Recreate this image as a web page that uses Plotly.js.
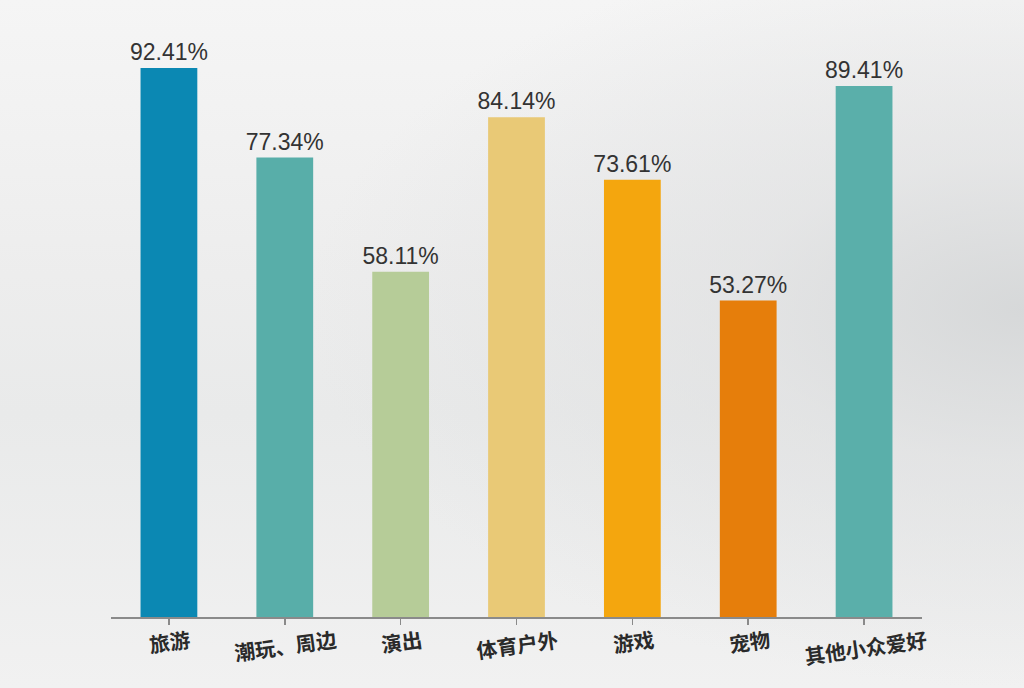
<!DOCTYPE html>
<html>
<head>
<meta charset="utf-8">
<script src="https://cdn.plot.ly/plotly-3.0.1.min.js"></script>
<style>
html,body{margin:0;padding:0;width:1024px;height:688px;overflow:hidden;}
body{background:
  radial-gradient(ellipse 70% 55% at 100% 45%, rgba(212,214,215,0.9) 0%, rgba(222,223,224,0.6) 40%, rgba(235,235,235,0) 100%),
  linear-gradient(180deg,#f5f5f5 0%,#ededed 40%,#e9eaea 60%,#f1f1f1 100%);}
#chart{width:1024px;height:688px;}
</style>
</head>
<body>
<div id="chart"></div>
<script>
var categories = ["旅游","潮玩、周边","演出","体育户外","游戏","宠物","其他小众爱好"];
var values = [92.41, 77.34, 58.11, 84.14, 73.61, 53.27, 89.41];
var barColors = ["#0b88b3","#58aea9","#b6cc98","#e9c976","#f4a60e","#e67e0b","#5aafaa"];

var trace = {
  type: "bar",
  x: categories,
  y: values,
  marker: {color: barColors, line: {width: 0}},
  text: values.map(function(v){ return v.toFixed(2) + "%"; }),
  textposition: "outside",
  constraintext: "none",
  textfont: {family: "Liberation Sans, Arial, sans-serif", size: 23, color: "#333333"},
  cliponaxis: false,
  hoverinfo: "skip"
};

var annotations = categories.map(function(c){
  return {
    x: c, y: 0, xref: "x", yref: "y",
    text: c, showarrow: false,
    textangle: -8,
    xanchor: "center", yanchor: "top",
    yshift: -4, xshift: 1,
    font: {family: "Noto Sans CJK SC, sans-serif", size: 20.5, color: "#2a2a2a", weight: 700}
  };
});

var layout = {
  width: 1024, height: 688,
  paper_bgcolor: "rgba(0,0,0,0)",
  plot_bgcolor: "rgba(0,0,0,0)",
  margin: {l: 111, r: 102, t: 23, b: 71},
  bargap: 0.51,
  showlegend: false,
  xaxis: {
    type: "category",
    range: [-0.5, categories.length - 0.5],
    showticklabels: false,
    ticks: "outside", ticklen: 6, tickcolor: "#8a8a8a", tickwidth: 1.5,
    showline: true, linecolor: "#8a8a8a", linewidth: 2,
    showgrid: false, zeroline: false
  },
  yaxis: {
    range: [0, 100],
    visible: false,
    showgrid: false, zeroline: false
  },
  annotations: annotations
};

Plotly.newPlot("chart", [trace], layout, {displayModeBar: false, staticPlot: true});
</script>
</body>
</html>
